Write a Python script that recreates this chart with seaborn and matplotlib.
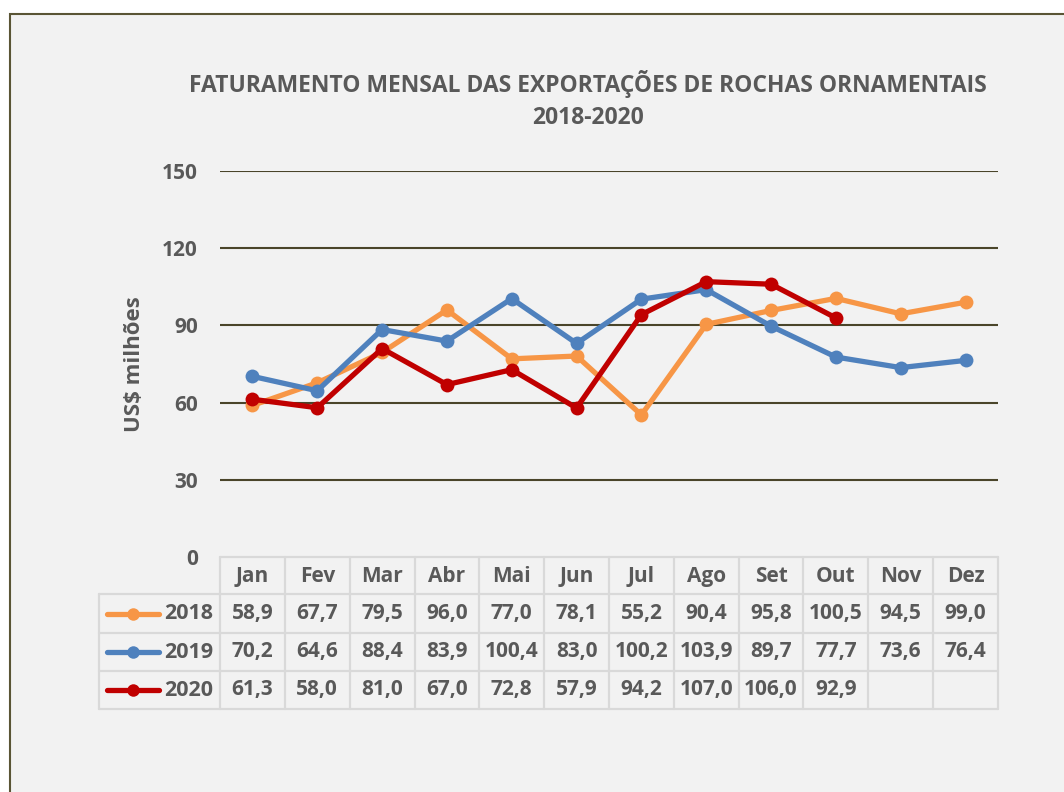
import matplotlib
matplotlib.use("Agg")
import matplotlib.pyplot as plt
import matplotlib.transforms as mtransforms
from matplotlib.patches import Rectangle
from matplotlib.lines import Line2D
import seaborn as sns
import pandas as pd

# ---------------- data ----------------
months = ["Jan", "Fev", "Mar", "Abr", "Mai", "Jun", "Jul", "Ago", "Set", "Out", "Nov", "Dez"]
years = ["2018", "2019", "2020"]
v2018 = [58.9, 67.7, 79.5, 96.0, 77.0, 78.1, 55.2, 90.4, 95.8, 100.5, 94.5, 99.0]
v2019 = [70.2, 64.6, 88.4, 83.9, 100.4, 83.0, 100.2, 103.9, 89.7, 77.7, 73.6, 76.4]
v2020 = [61.3, 58.0, 81.0, 67.0, 72.8, 57.9, 94.2, 107.0, 106.0, 92.9]
yticks = [0, 30, 60, 90, 120, 150]
title = "FATURAMENTO MENSAL DAS EXPORTAÇÕES DE ROCHAS ORNAMENTAIS\n2018-2020"
ylabel = "US$ milhões"
colors = {"2018": "#F79646", "2019": "#4F81BD", "2020": "#C00000"}

series = {"2018": v2018, "2019": v2019, "2020": v2020}
rows = []
for y in years:
    for i, v in enumerate(series[y]):
        rows.append({"idx": i, "Mes": months[i], "Ano": y, "Valor": v})
df = pd.DataFrame(rows)

# ---------------- style ----------------
sns.set_style("white")
FONT = ["Open Sans", "DejaVu Sans"]
plt.rcParams["font.family"] = FONT
TXT = "#595959"
GRID = "#4A452A"
TABLE = "#D9D9D9"
BG = "#F2F2F2"

W, H = 1064, 792
fig = plt.figure(figsize=(W / 100, H / 100), dpi=100, facecolor="white")

def fx(px):
    return px / W

def fy(py):
    return 1 - py / H

# chart area background + border
fig.patches.append(Rectangle((fx(10), -0.1), 1.2, fy(14) + 0.1, transform=fig.transFigure,
                             facecolor=BG, edgecolor="#5A5535", linewidth=1.5, zorder=-5))

ax_l, ax_r, ax_t, ax_b = 220, 998, 171, 557
ax = fig.add_axes([fx(ax_l), fy(ax_b), fx(ax_r) - fx(ax_l), fy(ax_t) - fy(ax_b)])
ax.set_facecolor("none")
ax.set_zorder(2)

sns.lineplot(data=df, x="idx", y="Valor", hue="Ano", hue_order=years, palette=colors,
             marker="o", markersize=10, markeredgewidth=0, linewidth=3.8,
             legend=False, ax=ax, zorder=3)

ax.set_xlim(-0.5, len(months) - 0.5)
ax.set_ylim(0, 150)
ax.set_yticks(yticks)
ax.set_yticklabels([str(t) for t in yticks], fontsize=15, fontweight="bold", color=TXT)
ax.tick_params(axis="y", length=0, pad=16)
ax.set_xticks([])
ax.set_xlabel("")
ax.set_ylabel(ylabel, fontsize=16, fontweight="bold", color=TXT, labelpad=12)
for s in ax.spines.values():
    s.set_visible(False)
for t in yticks[1:]:
    ax.axhline(t, color=GRID, linewidth=1.5, zorder=1)

fig.text(fx(588), fy(100), title, ha="center", va="center", fontsize=16.5, fontweight="bold",
         color=TXT, linespacing=1.5)

# ---------------- data table ----------------
bt = mtransforms.blended_transform_factory(ax.transData, fig.transFigure)
ft = fig.transFigure
hdr_top, hdr_bot = 557, 594
row_lines = [594, 633, 671, 709]
leg_l = 99
lw_t = 1.6

fig.lines.append(Line2D([fx(ax_l), fx(ax_r)], [fy(hdr_top)] * 2, transform=ft, color=TABLE, lw=lw_t))
for ry in row_lines:
    fig.lines.append(Line2D([fx(leg_l), fx(ax_r)], [fy(ry)] * 2, transform=ft, color=TABLE, lw=lw_t))
fig.lines.append(Line2D([fx(leg_l)] * 2, [fy(row_lines[0]), fy(row_lines[-1])], transform=ft, color=TABLE, lw=lw_t))
for i in range(len(months) + 1):
    xb = i - 0.5
    fig.lines.append(Line2D([xb, xb], [fy(hdr_top), fy(row_lines[-1])], transform=bt, color=TABLE, lw=lw_t))

fs_tab = 15
for i, m in enumerate(months):
    fig.text(i, fy((hdr_top + hdr_bot) / 2 + 1), m, transform=bt, ha="center", va="center",
             fontsize=fs_tab, fontweight="bold", color=TXT)

for r, y in enumerate(years):
    yc = fy((row_lines[r] + row_lines[r + 1]) / 2)
    vals = series[y]
    for i, v in enumerate(vals):
        fig.text(i, yc, f"{v:.1f}".replace(".", ","), transform=bt, ha="center", va="center",
                 fontsize=fs_tab, fontweight="bold", color=TXT)
    fig.lines.append(Line2D([fx(107), fx(159)], [yc, yc], transform=ft, color=colors[y],
                            lw=3.8, solid_capstyle="round"))
    fig.lines.append(Line2D([fx(133)], [yc], transform=ft, color=colors[y], marker="o",
                            markersize=9, markeredgewidth=0))
    fig.text(fx(189), yc, y, transform=ft, ha="center", va="center", fontsize=fs_tab + 0.5,
             fontweight="bold", color=TXT)

fig.savefig("out.png", dpi=100, facecolor="white")
